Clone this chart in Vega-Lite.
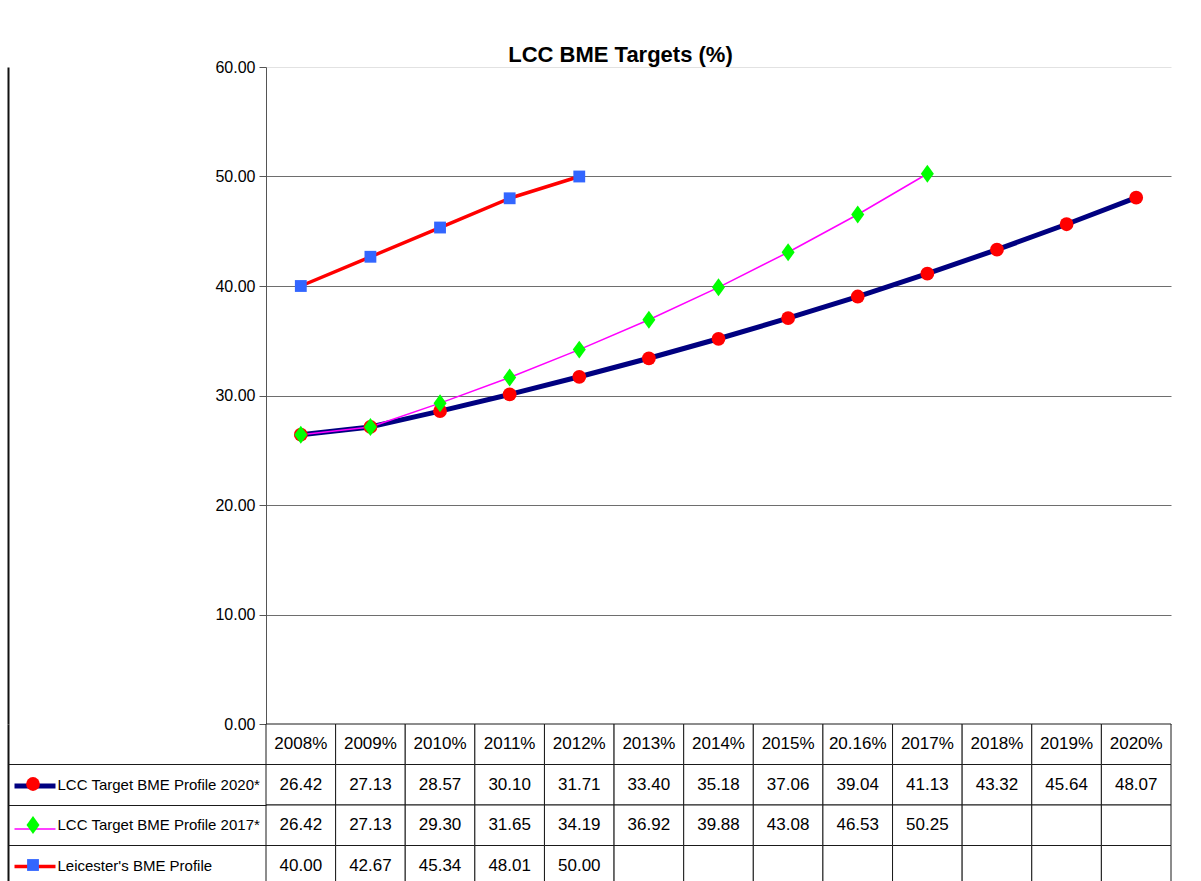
{
  "$schema": "https://vega.github.io/schema/vega-lite/v6.json",
  "background": "white",
  "padding": {"left": 7, "top": 44, "right": 0, "bottom": 0},
  "bounds": "flush",
  "spacing": 0,
  "config": {
    "font": "Liberation Sans, Arial, sans-serif",
    "view": {"stroke": null}
  },
  "datasets": {
    "cells": [
      {"year": 2008, "series": "LCC Target BME Profile 2020*", "value": 26.42},
      {"year": 2009, "series": "LCC Target BME Profile 2020*", "value": 27.13},
      {"year": 2010, "series": "LCC Target BME Profile 2020*", "value": 28.57},
      {"year": 2011, "series": "LCC Target BME Profile 2020*", "value": 30.10},
      {"year": 2012, "series": "LCC Target BME Profile 2020*", "value": 31.71},
      {"year": 2013, "series": "LCC Target BME Profile 2020*", "value": 33.40},
      {"year": 2014, "series": "LCC Target BME Profile 2020*", "value": 35.18},
      {"year": 2015, "series": "LCC Target BME Profile 2020*", "value": 37.06},
      {"year": 2016, "series": "LCC Target BME Profile 2020*", "value": 39.04},
      {"year": 2017, "series": "LCC Target BME Profile 2020*", "value": 41.13},
      {"year": 2018, "series": "LCC Target BME Profile 2020*", "value": 43.32},
      {"year": 2019, "series": "LCC Target BME Profile 2020*", "value": 45.64},
      {"year": 2020, "series": "LCC Target BME Profile 2020*", "value": 48.07},
      {"year": 2008, "series": "LCC Target BME Profile 2017*", "value": 26.42},
      {"year": 2009, "series": "LCC Target BME Profile 2017*", "value": 27.13},
      {"year": 2010, "series": "LCC Target BME Profile 2017*", "value": 29.30},
      {"year": 2011, "series": "LCC Target BME Profile 2017*", "value": 31.65},
      {"year": 2012, "series": "LCC Target BME Profile 2017*", "value": 34.19},
      {"year": 2013, "series": "LCC Target BME Profile 2017*", "value": 36.92},
      {"year": 2014, "series": "LCC Target BME Profile 2017*", "value": 39.88},
      {"year": 2015, "series": "LCC Target BME Profile 2017*", "value": 43.08},
      {"year": 2016, "series": "LCC Target BME Profile 2017*", "value": 46.53},
      {"year": 2017, "series": "LCC Target BME Profile 2017*", "value": 50.25},
      {"year": 2018, "series": "LCC Target BME Profile 2017*", "value": null},
      {"year": 2019, "series": "LCC Target BME Profile 2017*", "value": null},
      {"year": 2020, "series": "LCC Target BME Profile 2017*", "value": null},
      {"year": 2008, "series": "Leicester's BME Profile", "value": 40.00},
      {"year": 2009, "series": "Leicester's BME Profile", "value": 42.67},
      {"year": 2010, "series": "Leicester's BME Profile", "value": 45.34},
      {"year": 2011, "series": "Leicester's BME Profile", "value": 48.01},
      {"year": 2012, "series": "Leicester's BME Profile", "value": 50.00},
      {"year": 2013, "series": "Leicester's BME Profile", "value": null},
      {"year": 2014, "series": "Leicester's BME Profile", "value": null},
      {"year": 2015, "series": "Leicester's BME Profile", "value": null},
      {"year": 2016, "series": "Leicester's BME Profile", "value": null},
      {"year": 2017, "series": "Leicester's BME Profile", "value": null},
      {"year": 2018, "series": "Leicester's BME Profile", "value": null},
      {"year": 2019, "series": "Leicester's BME Profile", "value": null},
      {"year": 2020, "series": "Leicester's BME Profile", "value": null}
    ],
    "years": [
      {"year": 2008, "label": "2008%"},
      {"year": 2009, "label": "2009%"},
      {"year": 2010, "label": "2010%"},
      {"year": 2011, "label": "2011%"},
      {"year": 2012, "label": "2012%"},
      {"year": 2013, "label": "2013%"},
      {"year": 2014, "label": "2014%"},
      {"year": 2015, "label": "2015%"},
      {"year": 2016, "label": "20.16%"},
      {"year": 2017, "label": "2017%"},
      {"year": 2018, "label": "2018%"},
      {"year": 2019, "label": "2019%"},
      {"year": 2020, "label": "2020%"}
    ]
  },
  "vconcat": [
    {
      "width": 905,
      "height": 657,
      "title": {"text": "LCC BME Targets (%)", "fontSize": 22, "fontWeight": "bold", "color": "black", "dx": -98, "offset": -8},
      "data": {"name": "cells"},
      "transform": [{"filter": "isValid(datum.value)"}],
      "resolve": {"scale": {"y": "independent"}},
      "encoding": {
        "x": {"field": "year", "type": "ordinal", "scale": {"domain": [2008, 2009, 2010, 2011, 2012, 2013, 2014, 2015, 2016, 2017, 2018, 2019, 2020], "paddingInner": 0, "paddingOuter": 0}, "axis": null}
      },
      "layer": [
        {
          "mark": {"type": "line", "strokeCap": "round", "strokeJoin": "round"},
          "encoding": {
            "y": {"field": "value", "type": "quantitative", "scale": {"domain": [0, 60], "nice": false},
              "axis": {"title": null, "values": [0, 10, 20, 30, 40, 50, 60], "format": ".2f", "labelFontSize": 16, "labelColor": "black", "labelPadding": 4, "tickSize": 7, "tickColor": "#555555", "domainColor": "#555555", "grid": true, "gridColor": {"condition": {"test": "datum.value === 60", "value": "#e2e2e2"}, "value": "#6e6e6e"}}},
            "stroke": {"field": "series", "type": "nominal",
              "scale": {"domain": ["Leicester's BME Profile", "LCC Target BME Profile 2017*", "LCC Target BME Profile 2020*"], "range": ["#ff0000", "#ff00ff", "#000080"]},
              "legend": {"orient": "none", "legendX": -254, "legendY": 696, "title": null, "values": ["LCC Target BME Profile 2020*", "LCC Target BME Profile 2017*", "Leicester's BME Profile"], "labelExpr": "''", "labelFontSize": 1, "labelOffset": 0, "symbolType": "stroke", "symbolSize": 1681, "rowPadding": 11.5, "padding": 0}},
            "strokeWidth": {"field": "series", "type": "nominal",
              "scale": {"type": "ordinal", "domain": ["Leicester's BME Profile", "LCC Target BME Profile 2017*", "LCC Target BME Profile 2020*"], "range": [3.5, 1.5, 5]},
              "legend": {"orient": "none", "legendX": -254, "legendY": 696, "title": null, "values": ["LCC Target BME Profile 2020*", "LCC Target BME Profile 2017*", "Leicester's BME Profile"], "labelExpr": "''", "labelFontSize": 1, "labelOffset": 0, "symbolType": "stroke", "symbolSize": 1681, "rowPadding": 11.5, "padding": 0}}
          }
        },
        {
          "mark": {"type": "point", "filled": true, "opacity": 1, "strokeWidth": 0},
          "encoding": {
            "y": {"field": "value", "type": "quantitative", "scale": {"domain": [0, 60], "nice": false},
              "axis": {"orient": "left", "offset": 258, "title": null, "labels": false, "ticks": false, "grid": false, "domainColor": "#111111", "domainWidth": 2}},
            "fill": {"field": "series", "type": "nominal",
              "scale": {"domain": ["LCC Target BME Profile 2020*", "LCC Target BME Profile 2017*", "Leicester's BME Profile"], "range": ["#ff0000", "#00ff00", "#3366ff"]},
              "legend": {"orient": "none", "legendX": -241, "legendY": 709, "title": null, "labelExpr": "''", "labelFontSize": 1, "labelOffset": 0, "rowPadding": 19, "padding": 0}},
            "shape": {"field": "series", "type": "nominal",
              "scale": {"domain": ["LCC Target BME Profile 2020*", "LCC Target BME Profile 2017*", "Leicester's BME Profile"], "range": ["circle", "M0,-1.27L0.92,0L0,1.27L-0.92,0Z", "square"]},
              "legend": {"orient": "none", "legendX": -241, "legendY": 709, "title": null, "labelExpr": "''", "labelFontSize": 1, "labelOffset": 0, "rowPadding": 19, "padding": 0}},
            "size": {"field": "series", "type": "nominal",
              "scale": {"type": "ordinal", "domain": ["LCC Target BME Profile 2020*", "LCC Target BME Profile 2017*", "Leicester's BME Profile"], "range": [190, 200, 140]},
              "legend": {"orient": "none", "legendX": -241, "legendY": 709, "title": null, "labelExpr": "''", "labelFontSize": 1, "labelOffset": 0, "rowPadding": 19, "padding": 0}}
          }
        }
      ]
    },
    {
      "width": 905,
      "height": 162,
      "resolve": {"scale": {"y": "independent"}},
      "encoding": {
        "x": {"field": "year", "type": "ordinal", "scale": {"domain": [2008, 2009, 2010, 2011, 2012, 2013, 2014, 2015, 2016, 2017, 2018, 2019, 2020], "paddingInner": 0, "paddingOuter": 0}, "axis": null}
      },
      "layer": [
        {
          "data": {"name": "cells"},
          "mark": {"type": "rect", "fill": "white", "stroke": "#1a1a1a", "strokeWidth": 1},
          "encoding": {
            "y": {"field": "series", "type": "nominal",
              "scale": {"type": "band", "domain": ["hdr", "LCC Target BME Profile 2020*", "LCC Target BME Profile 2017*", "Leicester's BME Profile"], "paddingInner": 0, "paddingOuter": 0},
              "axis": {"title": null, "orient": "left", "domain": false, "grid": false, "bandPosition": 0, "tickSize": 258, "tickColor": "#1a1a1a", "tickOpacity": {"condition": {"test": "datum.value === 'hdr'", "value": 0}, "value": 1}, "labelExpr": "datum.value === 'hdr' ? '' : datum.value", "labelAlign": "left", "labelBaseline": "middle", "labelPadding": -49, "labelOffset": 0, "labelFontSize": 15, "labelColor": "black", "labelLimit": 400}}
          }
        },
        {
          "data": {"name": "years"},
          "mark": {"type": "rect", "fill": "white", "stroke": "#1a1a1a", "strokeWidth": 1},
          "encoding": {"y": {"datum": "hdr", "type": "nominal", "scale": {"type": "band", "domain": ["hdr", "LCC Target BME Profile 2020*", "LCC Target BME Profile 2017*", "Leicester's BME Profile"], "paddingInner": 0, "paddingOuter": 0}, "axis": null}}
        },
        {
          "data": {"name": "years"},
          "mark": {"type": "text", "fontSize": 17, "color": "black", "baseline": "middle"},
          "encoding": {"y": {"datum": "hdr", "type": "nominal", "scale": {"type": "band", "domain": ["hdr", "LCC Target BME Profile 2020*", "LCC Target BME Profile 2017*", "Leicester's BME Profile"], "paddingInner": 0, "paddingOuter": 0}, "axis": null}, "text": {"field": "label", "type": "nominal"}}
        },
        {
          "data": {"name": "cells"},
          "transform": [{"filter": "isValid(datum.value)"}],
          "mark": {"type": "text", "fontSize": 17, "color": "black", "baseline": "middle"},
          "encoding": {
            "y": {"field": "series", "type": "nominal", "scale": {"type": "band", "domain": ["hdr", "LCC Target BME Profile 2020*", "LCC Target BME Profile 2017*", "Leicester's BME Profile"], "paddingInner": 0, "paddingOuter": 0},
              "axis": {"orient": "left", "offset": 258, "title": null, "labels": false, "ticks": false, "grid": false, "domainColor": "#111111", "domainWidth": 2}},
            "text": {"field": "value", "type": "quantitative", "format": ".2f"}
          }
        }
      ]
    }
  ]
}
